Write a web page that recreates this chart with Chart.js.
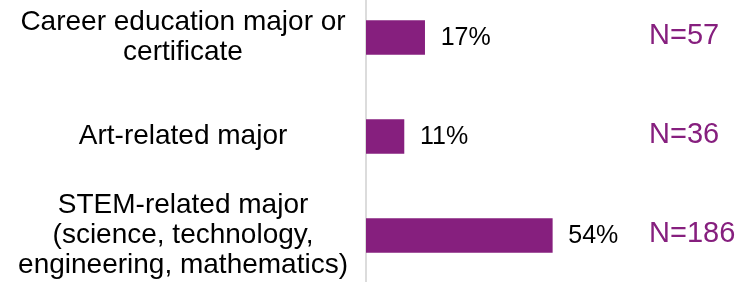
<!DOCTYPE html>
<html>
<head>
<meta charset="utf-8">
<script src="https://cdn.jsdelivr.net/npm/chart.js@4/dist/chart.umd.min.js"></script>
<style>
  html, body { margin: 0; padding: 0; background: #fff; overflow: hidden; }
  #wrap { position: absolute; left: 0; top: -12px; width: 747px; height: 297px; }
</style>
</head>
<body>
<div id="wrap"><canvas id="chart"></canvas></div>
<script>
'use strict';

// ── Data ────────────────────────────────────────────────────────────────────
const categories = [
  ['Career education major or', 'certificate'],
  ['Art-related major'],
  ['STEM-related major', '(science, technology,', 'engineering, mathematics)']
];
const percents = [17, 11, 54];
const counts = [57, 36, 186];

const PURPLE = '#861f7e';
Chart.defaults.font.family = "'Liberation Sans', Arial, sans-serif";

// value labels + N= labels
const labelPlugin = {
  id: 'barLabels',
  afterDatasetsDraw(chart) {
    const { ctx, chartArea } = chart;
    const meta = chart.getDatasetMeta(0);
    ctx.save();
    ctx.textBaseline = 'middle';
    meta.data.forEach((bar, i) => {
      ctx.font = "25px 'Liberation Sans', Arial, sans-serif";
      ctx.fillStyle = '#000';
      ctx.textAlign = 'left';
      ctx.fillText(percents[i] + '%', bar.x + 16, bar.y + 1);

      ctx.font = "29px 'Liberation Sans', Arial, sans-serif";
      ctx.fillStyle = PURPLE;
      ctx.fillText('N=' + counts[i], chartArea.right + 7, bar.y - 2);
    });
    ctx.restore();
  }
};

new Chart(document.getElementById('chart'), {
  type: 'bar',
  data: {
    labels: categories,
    datasets: [{
      data: percents,
      backgroundColor: PURPLE,
      barThickness: 34
    }]
  },
  options: {
    indexAxis: 'y',
    responsive: true,
    maintainAspectRatio: false,
    animation: false,
    layout: { padding: { left: 0, right: 105, top: 0, bottom: 0 } },
    plugins: { legend: { display: false }, tooltip: { enabled: false } },
    scales: {
      x: {
        min: 0, max: 80,
        display: false
      },
      y: {
        grid: { display: false },
        border: { display: true, color: '#dcdcdc', width: 2 },
        ticks: {
          color: '#000',
          padding: 10,
          crossAlign: 'center',
          font: { size: 28, lineHeight: 1.07 }
        },
        afterFit(scale) {
          scale.width = 366;
          // let the multi-line labels run past the plot edges, as in the original
          scale.paddingTop = 0;
          scale.paddingBottom = 0;
        }
      }
    }
  },
  plugins: [labelPlugin]
});
</script>
</body>
</html>
